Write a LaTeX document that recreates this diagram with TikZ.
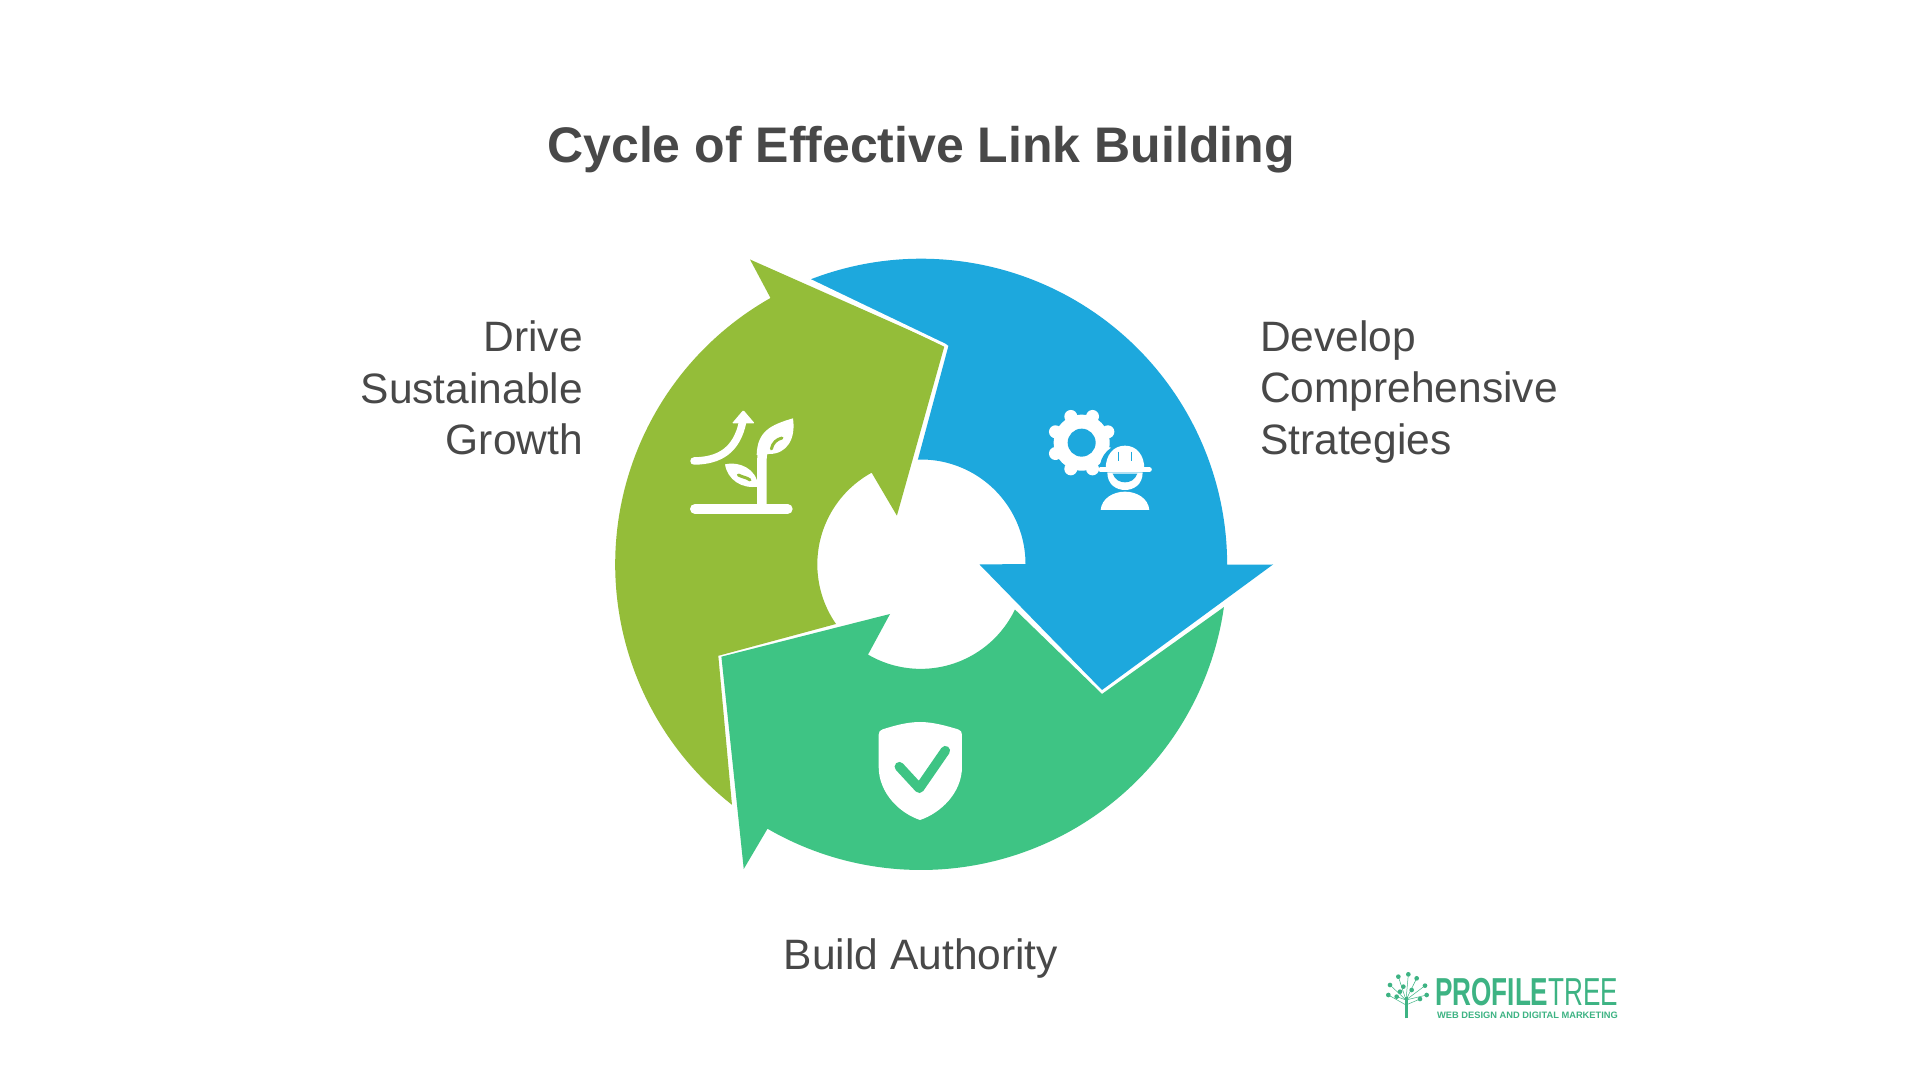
\documentclass[tikz,border=0pt]{standalone}
\usepackage{fontspec}
\usetikzlibrary{calc}
\setmainfont{Liberation Sans}
\definecolor{olivegreen}{HTML}{94BD39}
\definecolor{skyblue}{HTML}{1DA8DD}
\definecolor{tealgreen}{HTML}{3EC484}
\definecolor{inktext}{HTML}{484848}
\definecolor{logogreen}{HTML}{3DB383}
\tikzset{
  lbl/.style={text=inktext,inner sep=0pt,font=\fontsize{42.5}{51.4}\selectfont},
  wline/.style={draw=white,line cap=round,line join=round},
}
\begin{document}
\begin{tikzpicture}[x=1pt,y=1pt]
\useasboundingbox (0,0) rectangle (1920,1080);
\fill[white] (0,0) rectangle (1920,1080);
% olive arrow
\fill[olivegreen] (750,820.5) -- (770.5,782)
  arc[start angle=119.5,end angle=231.8,radius=306pt]
  -- (718.3,424.2) -- (836,456)
  arc[start angle=214.8,end angle=118.7,radius=104.5pt]
  -- (896.9,564.3) -- (944.5,734.3) -- cycle;
% blue arrow
\fill[skyblue] (809,800) arc[start angle=111.5,end angle=0,radius=306pt]
  -- (1273,515.5) -- (1102,390) -- (979.5,515.5) -- (1025.5,516)
  arc[start angle=0,end angle=91.7,radius=104.5pt]
  -- (948.5,734.3) -- cycle;
% teal arrow
\fill[tealgreen] (1223.9,472.9) arc[start angle=-8.1,end angle=-120.1,radius=306pt]
  -- (743.75,211) -- (721.4,423.3) -- (890,466) -- (868,425.4)
  arc[start angle=-120.3,end angle=-25.6,radius=104.5pt]
  -- (1102,386) -- cycle;
\draw[white,line width=3pt] (946,734.3) -- (809,800);
\node[lbl,font=\fontsize{50}{60}\bfseries\selectfont,anchor=center] (title) at (921,930) {Cycle of Effective Link Building};
\node[lbl,align=right,anchor=east] (drive) at (583,692) {Drive\\Sustainable\\Growth};
\node[lbl,align=left,anchor=west] (develop) at (1260,688) {Develop\\Comprehensive\\Strategies};
\node[lbl,anchor=center] (build) at (921,121.5) {Build Authority};
% plant icon
\begin{scope}[shift={(670,680)},x=0.3333pt,y=-0.3333pt]
\draw[wline,line width=10pt] (75,327) -- (353,327);
\draw[white,line width=9.5pt] (276,325) -- (276,175) .. controls (276,160) and (280,150) .. (290,140);
\fill[white] (260,165) .. controls (262,95) and (300,75) .. (369,55)
  .. controls (378,115) and (352,162) .. (298,162) -- cycle;
\draw[olivegreen,line width=3pt,line cap=round] (304,147) .. controls (308,128) and (320,118) .. (336,114);
\fill[white] (165,193) .. controls (205,183) and (262,205) .. (264,260)
  .. controls (215,267) and (173,240) .. (165,193) -- cycle;
\draw[olivegreen,line width=3pt,line cap=round] (205,225) .. controls (218,232) and (230,232) .. (240,240);
\draw[wline,line width=7.5pt] (72,183) .. controls (150,182) and (200,150) .. (218,66);
\fill[white,rounded corners=1pt] (186,70) -- (220,30) -- (254,70) -- cycle;
\end{scope}
% gear + worker icon
\begin{scope}[shift={(1030,685)},x=0.3333pt,y=-0.3333pt]
\fill[white] (155,143) circle[radius=84];
\foreach \a in {22.5,67.5,...,337.5}
  \draw[wline,line width=13pt] ($(155,143)+(\a:85)$) -- ++(\a:0.1);
\fill[skyblue] (155,143) circle[radius=42];
\fill[skyblue] (285,222) circle[radius=76];
\fill[white] (227,222) .. controls (227,180) and (250,152) .. (285,152)
  .. controls (320,152) and (343,180) .. (343,222) -- cycle;
\draw[wline,line width=5pt] (212,224) -- (358,224);
\draw[skyblue,line width=1.4pt] (265,170) -- (265,198) (305,170) -- (305,198);
\fill[white] (232,232) .. controls (232,270) and (260,285) .. (285,285)
  .. controls (310,285) and (338,270) .. (338,232) -- cycle;
\fill[skyblue] (248,236) .. controls (255,255) and (270,262) .. (285,262)
  .. controls (300,262) and (315,255) .. (322,236) -- cycle;
\fill[white] (212,345) .. controls (215,310) and (250,290) .. (285,290)
  .. controls (320,290) and (355,310) .. (358,345) -- cycle;
\end{scope}
% shield icon
\begin{scope}[shift={(860,370)},x=0.3333pt,y=-0.3333pt]
\fill[white] (68,58) .. controls (100,48) and (140,36) .. (180,36)
  .. controls (220,36) and (260,48) .. (294,58)
  .. controls (302,60) and (306,66) .. (306,74)
  -- (306,170) .. controls (306,250) and (240,310) .. (180,330)
  .. controls (120,310) and (56,250) .. (56,170)
  -- (56,74) .. controls (56,66) and (60,60) .. (68,58) -- cycle;
\draw[tealgreen,line width=9.5pt,line cap=round,line join=round] (118,170) -- (178,235) -- (256,122);
\end{scope}
% logo
\begin{scope}[shift={(1370,125)},x=0.3333pt,y=-0.3333pt]
\draw[logogreen,line width=3pt] (108,190) -- (108,125);
\draw[logogreen,line width=0.5pt] (108,135) -- (60,90) (108,135) -- (85,65) (108,135) -- (115,58)
  (108,135) -- (140,70) (108,135) -- (165,92) (108,135) -- (170,120) (108,150) -- (150,132)
  (108,135) -- (80,125) (108,150) -- (55,120);
\foreach \p in {(60,90),(85,65),(115,58),(140,70),(165,92),(170,120),(150,132),(125,105),(100,95),(80,125),(55,120),(90,110)}
  \fill[logogreen] \p circle[radius=7];
\end{scope}
\node[inner sep=0pt,anchor=west,text=logogreen,xscale=0.67,font=\fontsize{39}{44}\selectfont] (logo) at (1435,88) {\textbf{PROFILE}TREE};
\node[inner sep=0pt,anchor=west,text=logogreen,font=\fontsize{9.3}{10}\bfseries\selectfont] (sub) at (1437,65) {WEB DESIGN AND DIGITAL MARKETING};
\end{tikzpicture}
\end{document}
